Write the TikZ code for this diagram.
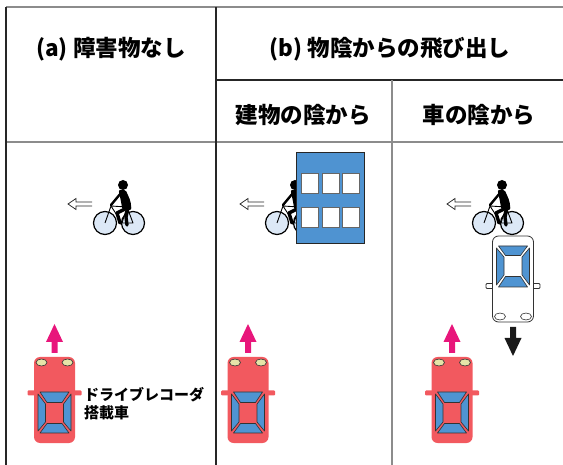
\documentclass[tikz,border=0pt]{standalone}
\usepackage{fontspec}
\newfontfamily\jp{Noto Sans CJK JP}
\definecolor{carred}{HTML}{F2595F}
\definecolor{glassblue}{HTML}{4F94D2}
\definecolor{lampyellow}{HTML}{E6E4A8}
\definecolor{arrowpink}{HTML}{E8167B}
\definecolor{wheelblue}{HTML}{DCE8F6}
\definecolor{buildblue}{HTML}{4F93D1}
\begin{document}
\begin{tikzpicture}[x=1pt,y=-1pt,
  gridline/.style={line width=1.5pt, black!45},
  darkline/.style={line width=1.2pt, black!85},
  headtext/.style={font=\jp\bfseries\fontsize{22.5}{24}\selectfont, inner sep=0pt},
  cartext/.style={font=\jp\bfseries\fontsize{15}{18}\selectfont, inner sep=0pt, align=left},
  redbody/.style={fill=carred},
  whitebody/.style={fill=white, draw=black!80, line width=0.8pt},
  glass/.style={fill=glassblue, draw=black!80, line width=0.6pt, line join=round},
  lamp/.style={draw=black!80, line width=0.6pt},
  wheel/.style={fill=wheelblue, draw=black, line width=1.2pt},
  frame/.style={draw=black, line width=0.9pt},
  pics/car/.style 2 args={code={
    % side mirrors
    \path[#1, rounded corners=1pt] (-27,-9.5) rectangle (27,-4.5);
    % body
    \path[#1, rounded corners=6pt] (-20.5,-43) rectangle (20.5,43);
    % windscreens and side windows
    \path[glass] (-14.5,-8) -- (14.5,-8) -- (7.5,2.5) -- (-7.5,2.5) -- cycle;
    \path[glass] (-14.5,33) -- (14.5,33) -- (7.5,23.5) -- (-7.5,23.5) -- cycle;
    \path[glass] (-16.5,-6) -- (-9,4) -- (-9,22) -- (-16.5,31) -- cycle;
    \path[glass] (16.5,-6) -- (9,4) -- (9,22) -- (16.5,31) -- cycle;
    % headlights
    \path[lamp, fill=#2] (-13,-37.5) ellipse [x radius=5.5, y radius=3.5];
    \path[lamp, fill=#2] (13,-37.5) ellipse [x radius=5.5, y radius=3.5];
  }},
  pics/movearrow/.style={code={
    \fill[#1] (-3,0) -- (-3,-11) -- (-8.5,-11) -- (0,-29) -- (8.5,-11) -- (3,-11) -- (3,0) -- cycle;
  }},
  pics/bike/.style={code={
    % direction of travel
    \draw[black!85, line width=0.75pt, line join=miter]
      (-13,-21) -- (-29,-21) -- (-29,-24.5) -- (-37,-19) -- (-29,-13.5) -- (-29,-17) -- (-13,-17);
    % wheels
    \path[wheel] (0,0) circle [radius=11.5];
    \path[wheel] (28,0) circle [radius=11.5];
    % frame
    \draw[frame, line join=round] (0,0) -- (6,-17) -- (17,0) -- (28,0) -- (22,-16) -- (17,0);
    \draw[frame] (6,-17) -- (22,-16);
    % rider
    \fill[black] (18,-38) circle [radius=5];
    \fill[black, rounded corners=2pt] (13.5,-33) -- (20.5,-33.5) -- (25.5,-22) -- (26.5,-13) -- (17.5,-13) -- (15.5,-24) -- cycle;
    \draw[black, line width=2.4pt, line cap=round] (16,-30) -- (6,-18);
    \draw[black, line width=3.4pt, line cap=round, line join=round] (22,-15) -- (12,-10) -- (15,0);
    \draw[black, line width=3.4pt, line cap=round, line join=round] (23,-15) -- (21,-6) -- (22,2);
  }}
]
\useasboundingbox (0,0) rectangle (563,465);

% table rules
\draw[gridline] (6,7) -- (563,7);
\draw[gridline] (6,142) -- (563,142);
\draw[darkline] (216,80) -- (563,80);
\draw[darkline] (6,7) -- (6,465);
\draw[darkline] (216,7) -- (216,465);
\draw[gridline] (392,80) -- (392,465);

% headings
\node[headtext] (ha) at (111,49) {(a) 障害物なし};
\node[headtext] (hb) at (390,49) {(b) 物陰からの飛び出し};
\node[headtext] (hb1) at (303,115) {建物の陰から};
\node[headtext] (hb2) at (479,115) {車の陰から};

% cyclists
\pic at (105,223) {bike};
\pic at (277,223) {bike};
\pic at (484,223) {bike};

% building hiding the cyclist
\draw[fill=buildblue, draw=black!85, line width=1pt] (296,153) rectangle (364,244);
\foreach \wx in {301,322,342}
  \foreach \wy in {173,207}
    \draw[fill=white, draw=black!60, line width=0.9pt] (\wx,\wy) rectangle (\wx+17,\wy+20);

% cars with drive recorders
\pic at (54.5,400) {car={redbody}{lampyellow}};
\pic at (248,400) {car={redbody}{lampyellow}};
\pic at (452,400) {car={redbody}{lampyellow}};
\pic at (54.5,353) {movearrow=arrowpink};
\pic at (248,353) {movearrow=arrowpink};
\pic at (452,353) {movearrow=arrowpink};

% oncoming car
\pic[rotate=180] at (513,279) {car={whitebody}{white}};
\pic[rotate=180] at (513,327) {movearrow=black!90};

\node[cartext, anchor=north west] (rec) at (84,387) {ドライブレコーダ\\搭載車};
\end{tikzpicture}
\end{document}
